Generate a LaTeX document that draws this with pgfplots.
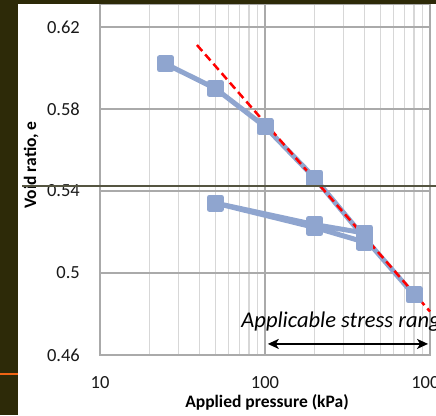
\documentclass[border=0pt]{standalone}
\usepackage{pgfplots}
\pgfplotsset{compat=1.18}
\usepackage{fontspec}
\setmainfont{Carlito}
\usetikzlibrary{arrows.meta}
\definecolor{serblue}{RGB}{143,165,207}
\definecolor{darkbg}{RGB}{45,42,8}
\definecolor{gridmaj}{RGB}{170,170,170}
\definecolor{gridmin}{RGB}{215,215,215}
\definecolor{darkline}{RGB}{85,85,65}
\definecolor{orangeline}{RGB}{240,100,20}
\begin{document}
\begin{tikzpicture}[x=1pt,y=1pt]
\useasboundingbox (0,0) rectangle (436,415);
\clip (0,0) rectangle (436,415);
\fill[white] (0,0) rectangle (436,415);
\begin{axis}[
 at={(100pt,60pt)}, anchor=south west,
 scale only axis, width=330pt, height=351pt,
 xmode=log, log basis x=10,
 xmin=10, xmax=1000, ymin=0.46, ymax=0.6312,
 xtick={10,100,1000}, xticklabels={10,100,1000},
 minor xtick={20,30,40,50,60,70,80,90,200,300,400,500,600,700,800,900},
 ytick={0.46,0.5,0.54,0.58,0.62}, yticklabels={0.46,0.5,0.54,0.58,0.62},
 grid=both,
 major grid style={gridmaj, line width=1.3pt},
 minor grid style={gridmin, line width=1.5pt},
 major tick length=0pt, minor tick length=0pt,
 axis line style={gridmaj, line width=1.3pt},
 tick label style={font=\fontsize{18.5}{20}\selectfont, text=black!90},
 yticklabel style={anchor=east, inner sep=0pt, xshift=-20pt},
 xticklabel style={anchor=north, inner sep=0pt, yshift=-21pt},
 /pgf/number format/assume math mode=true,
 xlabel={Applied pressure (kPa)},
 ylabel={Void ratio, e},
 label style={font=\bfseries\fontsize{17.5}{20}\selectfont},
 xlabel style={at={(axis description cs:0.506,0)}, anchor=base, yshift=-52pt},
 ylabel style={at={(axis description cs:-0.209,0.541)}, anchor=center},
 clip=false,
]
\addplot[serblue, line width=5pt, line join=round, mark=square*, mark size=6pt, mark options={fill=serblue, draw=serblue}]
 coordinates {(25,0.602) (50,0.590) (100,0.5714) (200,0.5463) (400,0.5172) (800,0.4893)};
\addplot[serblue, line width=5pt, line join=round, mark=square*, mark size=6pt, mark options={fill=serblue, draw=serblue}]
 coordinates {(400,0.5195) (200,0.5236) (50,0.5341) (200,0.5222) (400,0.5151)};
\addplot[red, line width=2.5pt, dash pattern=on 8pt off 4.5pt] coordinates {(38.7,0.6112) (1000,0.4812)};
\node[anchor=base west, font=\itshape\fontsize{22.5}{26}\selectfont] at (axis cs:68.5,0.4732) {Applicable stress range};
\draw[{Stealth[length=11pt,width=10pt,inset=3pt]}-{Stealth[length=11pt,width=10pt,inset=3pt]}, line width=1.8pt] (axis cs:104,0.4654) -- (axis cs:973,0.4654);
\end{axis}
\fill[darkbg] (0,0) rectangle (18,415);
\fill[darkbg] (0,411) rectangle (436,415);
\draw[orangeline, line width=1.5pt] (0,41) -- (18,41);
\draw[darkline, line width=1.3pt] (22,229) -- (436,229);
\end{tikzpicture}
\end{document}
